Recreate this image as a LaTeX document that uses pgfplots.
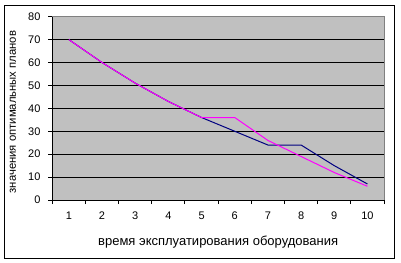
\documentclass[border=0pt]{standalone}
\usepackage{fontspec}
\setmainfont{Liberation Sans}
\usepackage{pgfplots}
\pgfplotsset{compat=1.18}
\definecolor{plotgray}{RGB}{192,192,192}
\definecolor{bordergray}{RGB}{128,128,128}
\definecolor{navyline}{RGB}{0,0,128}
\definecolor{magline}{RGB}{255,0,255}
\begin{document}
\fontsize{11bp}{13bp}\selectfont
\begin{tikzpicture}[x=1bp,y=1bp]
\useasboundingbox (-52.3,-63) rectangle (348.7,200);
\draw[black, line width=1bp] (-47.3,-58) rectangle (342.7,195);
\begin{axis}[
 at={(0,0)}, anchor=south west,
 scale only axis, width=331.7bp, height=183.3bp,
 xmin=0.5, xmax=10.5, ymin=0, ymax=80,
 xtick={0.5,1.5,2.5,3.5,4.5,5.5,6.5,7.5,8.5,9.5,10.5},
 xticklabels={},
 extra x ticks={1,2,3,4,5,6,7,8,9,10},
 extra x tick labels={1,2,3,4,5,6,7,8,9,10},
 extra x tick style={major tick length=0pt, grid=none},
 ytick={0,10,20,30,40,50,60,70,80},
 ymajorgrids, grid style={black, line width=1bp},
 tick align=outside, tick pos=left,
 major tick length=4bp,
 tick style={black, line width=1bp},
 axis line style={draw=none},
 axis background/.style={fill=plotgray},
 /pgf/number format/assume math mode=true,
 ticklabel style={font=\fontsize{11bp}{13bp}\selectfont},
 xticklabel style={yshift=-8bp},
 yticklabel style={xshift=-4bp},
 xlabel={время эксплуатирования оборудования},
 ylabel={значения оптимальных планов},
 every axis x label/.style={at={(axis description cs:0.5,-0.2275)}, anchor=center, font=\fontsize{13bp}{15bp}\selectfont},
 every axis y label/.style={at={(axis description cs:-0.1185,0.48)}, anchor=center, rotate=90, font=\fontsize{11.3bp}{13bp}\selectfont},
 clip=false,
]
\addplot[navyline, line width=1bp] coordinates {(1,70) (2,60) (3,51) (4,43) (5,36) (6,30) (7,24) (8,24) (9,15) (10,7)};
\addplot[magline, line width=1bp] coordinates {(1,70) (2,60) (3,51) (4,43) (5,36) (6,36) (7,26) (8,19) (9,12) (10,6)};
\draw[bordergray, line width=1bp] (rel axis cs:0,1) -- (rel axis cs:1,1) -- (rel axis cs:1,0);
\draw[black, line width=1bp] (rel axis cs:0,1) -- (rel axis cs:0,0) -- (rel axis cs:1,0);
\end{axis}
\end{tikzpicture}
\end{document}
